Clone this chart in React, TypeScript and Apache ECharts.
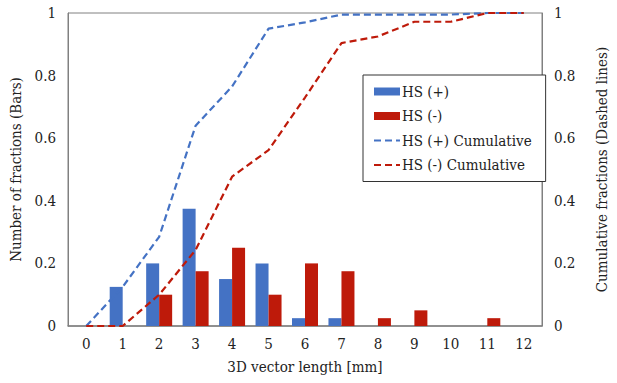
import React, { useEffect, useRef } from "react";
import * as echarts from "echarts";

const categories = ["0", "1", "2", "3", "4", "5", "6", "7", "8", "9", "10", "11", "12"];
const hsPlusBars = [null, 0.125, 0.2, 0.375, 0.15, 0.2, 0.025, 0.025, null, null, null, null, null];
const hsMinusBars = [null, 0, 0.1, 0.175, 0.25, 0.1, 0.2, 0.175, 0.025, 0.05, 0, 0.025, null];
const hsPlusCum = [0, 0.125, 0.285, 0.64, 0.765, 0.95, 0.97, 0.995, 0.995, 0.995, 0.995, 1, 1];
const hsMinusCum = [0, 0, 0.1, 0.243, 0.477, 0.562, 0.73, 0.904, 0.925, 0.972, 0.972, 1, 1];
const yTicks = { min: 0, max: 1, interval: 0.2 };

const FONT = "DejaVu Serif Condensed";
const BLUE = "#4472C4";
const RED = "#BE1A0A";
const TEXT = "#222";

export default function App() {
  const ref = useRef<HTMLDivElement>(null);
  useEffect(() => {
    if (!ref.current) return;
    const chart = echarts.init(ref.current, null, { renderer: "svg" });
    const axisLabel = { fontFamily: FONT, fontSize: 15, color: TEXT };
    const nameStyle = { fontFamily: FONT, fontSize: 15, color: TEXT };
    const hidden = { color: "rgba(0,0,0,0)", borderWidth: 0, opacity: 0 };
    chart.setOption({
      animation: false,
      backgroundColor: "#fff",
      textStyle: { fontFamily: FONT },
      grid: {
        left: 68,
        right: 65,
        top: 13,
        bottom: 57,
        show: true,
        borderColor: "#808080",
        borderWidth: 1,
      },
      legend: {
        orient: "vertical",
        left: 363,
        top: 75,
        padding: [9, 14, 9, 10],
        itemGap: 9.5,
        itemWidth: 26,
        itemHeight: 8,
        borderColor: "#333",
        borderWidth: 1,
        backgroundColor: "#fff",
        textStyle: { fontFamily: FONT, fontSize: 15, color: TEXT, padding: [0, 0, 0, -3] },
        data: [
          { name: "HS (+)", icon: "rect" },
          { name: "HS (-)", icon: "rect" },
          { name: "HS (+) Cumulative", itemStyle: hidden },
          { name: "HS (-) Cumulative", itemStyle: hidden },
        ],
      },
      xAxis: {
        type: "category",
        data: categories,
        boundaryGap: true,
        axisTick: { show: false },
        axisLine: { lineStyle: { color: "#808080", width: 1.5 } },
        axisLabel: { ...axisLabel, margin: 10, interval: 0 },
        name: "3D vector length [mm]",
        nameLocation: "middle",
        nameGap: 33,
        nameTextStyle: nameStyle,
      },
      yAxis: [
        {
          type: "value",
          ...yTicks,
          splitLine: { show: false },
          axisLine: { show: true, lineStyle: { color: "#808080" } },
          axisTick: { show: false },
          axisLabel: { ...axisLabel, margin: 12 },
          name: "Number of fractions (Bars)",
          nameLocation: "middle",
          nameRotate: 90,
          nameGap: 41,
          nameTextStyle: nameStyle,
        },
        {
          type: "value",
          ...yTicks,
          position: "right",
          splitLine: { show: false },
          axisLine: { show: true, lineStyle: { color: "#808080" } },
          axisTick: { show: false },
          axisLabel: { ...axisLabel, margin: 12 },
          name: "Cumulative fractions (Dashed lines)",
          nameLocation: "middle",
          nameRotate: 90,
          nameGap: 52,
          nameTextStyle: nameStyle,
        },
      ],
      series: [
        {
          name: "HS (+)",
          type: "bar",
          data: hsPlusBars,
          barWidth: 13,
          barGap: "0%",
          itemStyle: { color: BLUE },
        },
        {
          name: "HS (-)",
          type: "bar",
          data: hsMinusBars,
          barWidth: 13,
          barGap: "0%",
          itemStyle: { color: RED },
        },
        {
          name: "HS (+) Cumulative",
          type: "line",
          yAxisIndex: 1,
          data: hsPlusCum,
          symbol: "none",
          lineStyle: { color: BLUE, width: 2.2, type: [7, 4] },
          itemStyle: { color: BLUE },
          z: 5,
        },
        {
          name: "HS (-) Cumulative",
          type: "line",
          yAxisIndex: 1,
          data: hsMinusCum,
          symbol: "none",
          lineStyle: { color: RED, width: 2.2, type: [7, 4] },
          itemStyle: { color: RED },
          z: 5,
        },
      ],
    });
    return () => chart.dispose();
  }, []);
  return (
    <div
      ref={ref}
      style={{ position: "fixed", left: 0, top: 0, width: 617, height: 383, background: "#fff" }}
    />
  );
}
